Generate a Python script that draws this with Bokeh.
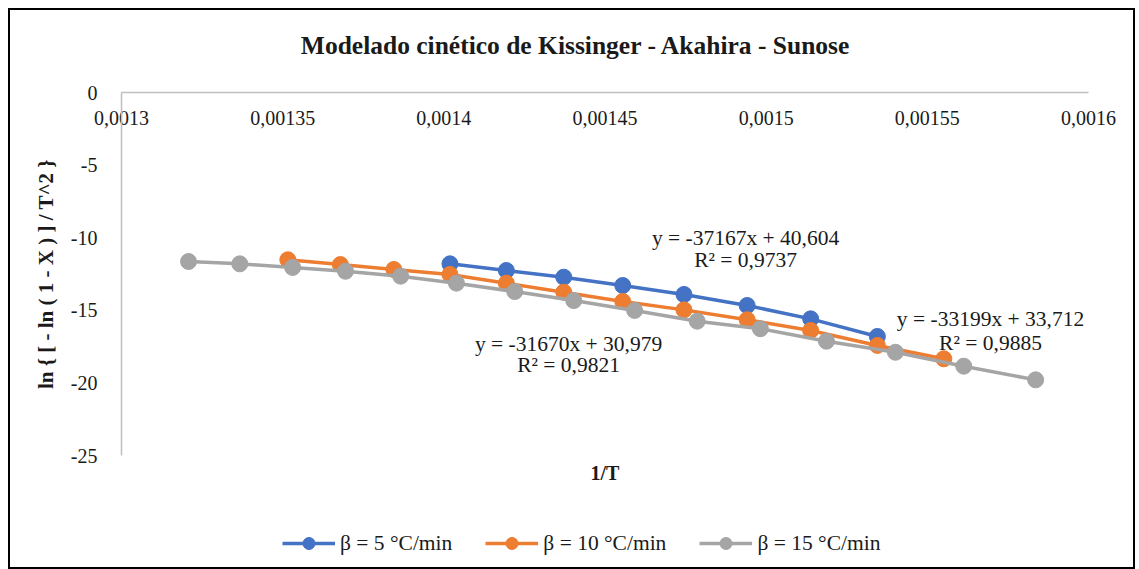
from bokeh.plotting import figure
from bokeh.layouts import column
from bokeh.models import (Range1d, FixedTicker, CustomJSTickFormatter, LinearAxis,
                          Legend, LegendItem, Label)
from bokeh.embed import file_html
from bokeh.resources import INLINE

# ---------------- data ----------------
x5 = [0.0014019, 0.0014194, 0.0014372, 0.0014555, 0.0014745, 0.0014941, 0.0015138, 0.0015345]
y5 = [-11.80, -12.26, -12.72, -13.29, -13.91, -14.67, -15.59, -16.80]

x10 = [0.0013516, 0.0013679, 0.0013845, 0.0014019, 0.0014194, 0.0014372, 0.0014555,
       0.0014745, 0.0014941, 0.0015138, 0.0015345, 0.0015551]
y10 = [-11.52, -11.85, -12.19, -12.53, -13.13, -13.75, -14.39, -14.97, -15.65, -16.39,
       -17.42, -18.34]

x15 = [0.0013208, 0.0013367, 0.0013531, 0.0013695, 0.0013866, 0.0014039, 0.0014220,
       0.0014403, 0.0014592, 0.0014786, 0.0014982, 0.0015187, 0.0015401, 0.0015613, 0.0015836]
y15 = [-11.64, -11.80, -12.05, -12.31, -12.65, -13.13, -13.71, -14.33, -15.01, -15.75,
       -16.27, -17.13, -17.89, -18.85, -19.79]

series_names = ["β = 5 °C/min", "β = 10 °C/min", "β = 15 °C/min"]
x_ticks = [0.0013, 0.00135, 0.0014, 0.00145, 0.0015, 0.00155, 0.0016]
y_ticks = [-25, -20, -15, -10, -5, 0]

title_text = "Modelado cinético de Kissinger - Akahira - Sunose"
eq_texts = [("y = -37167x + 40,604", "R² = 0,9737"),
            ("y = -31670x + 30,979", "R² = 0,9821"),
            ("y = -33199x + 33,712", "R² = 0,9885")]
eq_pos = [(0.0014936, -9.99, -11.57),
          (0.0014387, -17.29, -18.80),
          (0.0015696, -15.63, -17.22)]

colors = ["#4472C4", "#ED7D31", "#A5A5A5"]
FONT = "Liberation Serif"
TXT = "#1a1a1a"
AXC = "#BFBFBF"
W = 1123

# ---------------- title strip ----------------
pt = figure(width=W, height=50, output_backend="svg", toolbar_location=None,
            x_range=Range1d(0, 1), y_range=Range1d(0, 1),
            x_axis_location=None, y_axis_location=None,
            min_border_left=0, min_border_right=0, min_border_top=0, min_border_bottom=0)
pt.outline_line_color = None
pt.grid.visible = False
pt.add_layout(Label(x=454.5, y=15.5, x_units="screen", y_units="screen", text=title_text,
                    text_align="center", text_baseline="middle", text_font=FONT,
                    text_font_size="25.5px", text_font_style="bold", text_color=TXT))

# ---------------- main chart ----------------
p = figure(width=W, height=455, output_backend="svg", toolbar_location=None,
           x_range=Range1d(0.0013, 0.0016), y_range=Range1d(-25, 0),
           x_axis_location="above",
           min_border_left=111, min_border_right=45, min_border_top=32, min_border_bottom=60)
p.outline_line_color = None
p.grid.visible = False

# x axis (top, crossing at y = 0) with labels below the line
xa = p.xaxis[0]
xa.ticker = FixedTicker(ticks=x_ticks)
xa.formatter = CustomJSTickFormatter(code="""
    let s = tick.toFixed(5).replace(/0+$/, '');
    return s.replace('.', ',');
""")
xa.axis_line_color = AXC
xa.axis_line_width = 1.5
xa.major_tick_line_color = None
xa.minor_tick_line_color = None
xa.major_label_standoff = -38
xa.major_label_text_font = FONT
xa.major_label_text_font_size = "20px"
xa.major_label_text_color = TXT

ya = p.yaxis[0]
ya.ticker = FixedTicker(ticks=y_ticks)
ya.formatter = CustomJSTickFormatter(code="return Math.round(tick).toString();")
ya.axis_line_color = AXC
ya.axis_line_width = 1.5
ya.major_tick_line_color = None
ya.minor_tick_line_color = None
ya.major_label_standoff = 18
ya.major_label_text_font = FONT
ya.major_label_text_font_size = "20px"
ya.major_label_text_color = TXT
ya.axis_label = "ln { [ - ln ( 1 - X ) ] / T^2 }"
ya.axis_label_text_font = FONT
ya.axis_label_text_font_size = "21px"
ya.axis_label_text_font_style = "bold"
ya.axis_label_text_color = TXT
ya.axis_label_standoff = 10

# bottom axis only carrying the "1/T" title
xb = LinearAxis(ticker=FixedTicker(ticks=[]), axis_label="1/T",
                axis_line_color=None, major_tick_line_color=None,
                minor_tick_line_color=None,
                axis_label_text_font=FONT, axis_label_text_font_size="20px",
                axis_label_text_font_style="bold", axis_label_text_color=TXT,
                axis_label_standoff=6)
p.add_layout(xb, "below")

for xs, ys, c in zip([x5, x10, x15], [y5, y10, y15], colors):
    p.line(xs, ys, line_color=c, line_width=3.5)
    p.scatter(xs, ys, size=16, fill_color=c, line_color=c)

for (l1, l2), (ex, ey1, ey2) in zip(eq_texts, eq_pos):
    p.add_layout(Label(x=ex, y=ey1, text=l1, text_align="center", text_baseline="middle",
                       text_font=FONT, text_font_size="21.5px", text_color=TXT))
    p.add_layout(Label(x=ex, y=ey2, text=l2, text_align="center", text_baseline="middle",
                       text_font=FONT, text_font_size="21.5px", text_color=TXT))

# ---------------- legend strip ----------------
pl = figure(width=W, height=52, output_backend="svg", toolbar_location=None,
            x_range=Range1d(1, 2), y_range=Range1d(1, 2),
            x_axis_location=None, y_axis_location=None,
            min_border_left=0, min_border_right=0, min_border_top=0, min_border_bottom=0)
pl.outline_line_color = None
pl.grid.visible = False

items = []
for xs, ys, c, name in zip([x5, x10, x15], [y5, y10, y15], colors, series_names):
    r1 = pl.line(xs, ys, line_color=c, line_width=3.5)
    r2 = pl.scatter(xs, ys, size=16, fill_color=c, line_color=c)
    items.append(LegendItem(label=name, renderers=[r1, r2]))

legend = Legend(items=items, orientation="horizontal", location=(161, 9),
                glyph_width=53, glyph_height=30, label_standoff=5, spacing=33,
                padding=0, margin=0, border_line_color=None, background_fill_alpha=0,
                label_text_font=FONT, label_text_font_size="21.5px", label_text_color=TXT)
pl.add_layout(legend, "center")

layout = column(pt, p, pl, spacing=0)
layout.styles = {"border": "2px solid black", "margin-left": "8px", "margin-top": "8px"}

open("out.html", "w").write(file_html(layout, INLINE))
